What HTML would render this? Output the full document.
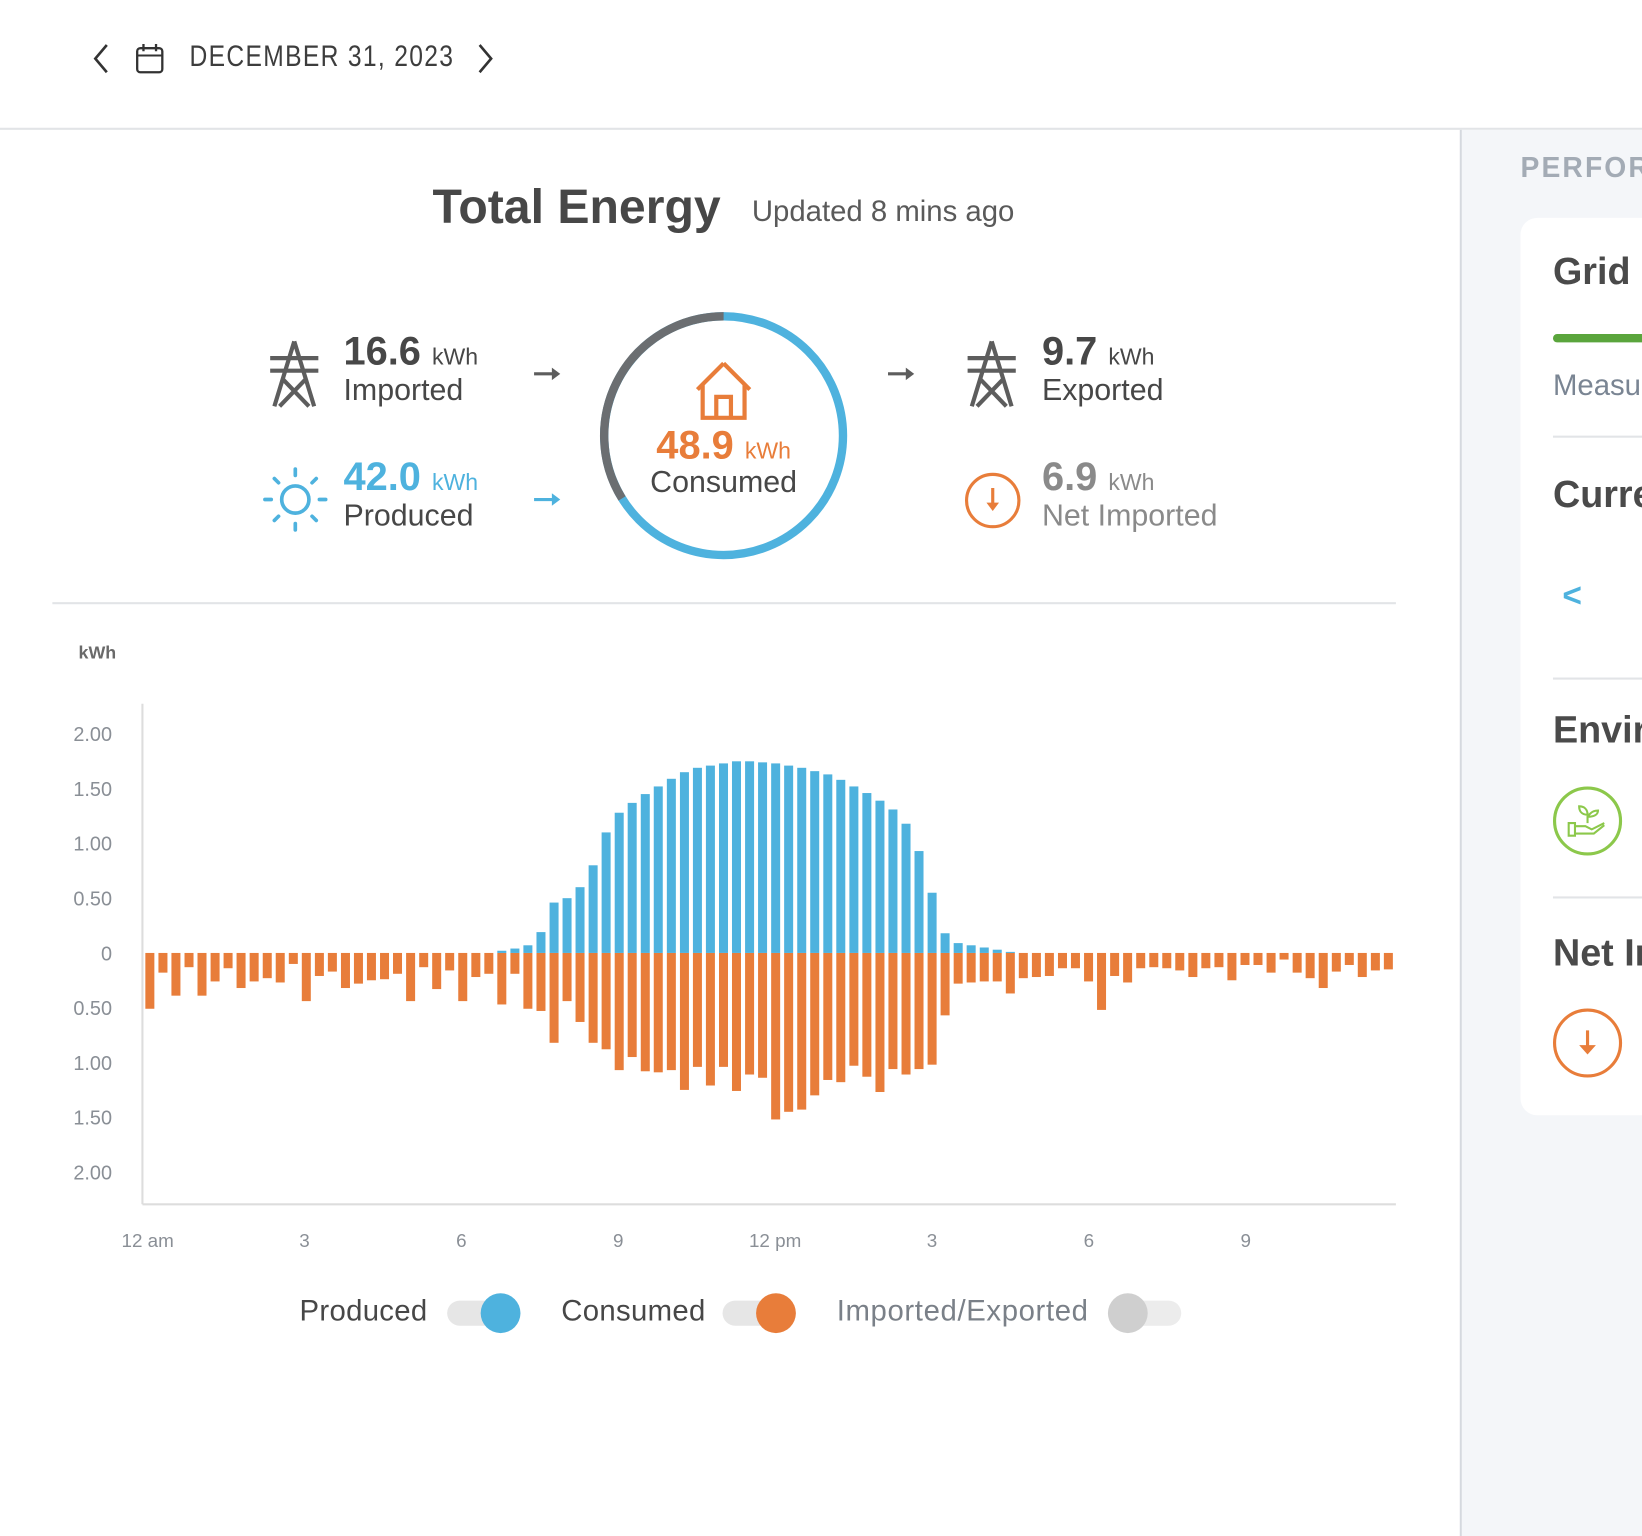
<!DOCTYPE html>
<html><head><meta charset="utf-8"><style>
html,body{margin:0;padding:0;background:#fff;overflow:hidden;width:1642px;height:1536px}
#clip{position:absolute;left:0;top:0;width:1642px;height:1536px;overflow:hidden}
#w{position:absolute;left:0;top:0;width:1568px;height:1467px;overflow:hidden;transform:scale(1.04719);transform-origin:0 0;font-family:"Liberation Sans",sans-serif;color:#4a4a4a}
.a{position:absolute;white-space:nowrap}
</style></head><body><div id="clip"><div id="w">
<div class="a" style="left:0;top:122px;width:1568px;height:2px;background:#e2e4e7"></div>
<svg class="a" style="left:84px;top:40px" width="24" height="32"><path d="M18 3 L7 16 L18 29" fill="none" stroke="#333" stroke-width="2.5"/></svg>
<svg class="a" style="left:128px;top:40px" width="30" height="32"><rect x="3" y="6" width="24" height="23" rx="3" fill="none" stroke="#333" stroke-width="2.2"/><line x1="3" y1="13" x2="27" y2="13" stroke="#333" stroke-width="2"/><line x1="9" y1="2" x2="9" y2="9" stroke="#333" stroke-width="2.2"/><line x1="21" y1="2" x2="21" y2="9" stroke="#333" stroke-width="2.2"/></svg>
<div class="a" style="left:181px;top:38px;font-size:28px;letter-spacing:1.5px;color:#3d3d3d;transform:scaleX(0.84);transform-origin:0 0">DECEMBER 31, 2023</div>
<svg class="a" style="left:452px;top:40px" width="24" height="32"><path d="M6 3 L17 16 L6 29" fill="none" stroke="#333" stroke-width="2.5"/></svg>

<div class="a" style="left:1394px;top:124px;width:2px;height:1343px;background:#d5d9df"></div>
<div class="a" style="left:1396px;top:124px;width:172px;height:1343px;background:#f4f6f9"></div>
<div class="a" style="left:1452px;top:145px;font-size:27px;font-weight:bold;letter-spacing:2px;color:#a3abb5">PERFORMANCE</div>
<div class="a" style="left:1452px;top:208px;width:140px;height:857px;background:#fff;border-radius:16px"></div>
<div class="a" style="left:1483px;top:238px;font-size:36px;font-weight:bold;color:#4a4a4a">Grid</div>
<div class="a" style="left:1483px;top:319px;width:100px;height:8px;border-radius:4px;background:#5aa53c"></div>
<div class="a" style="left:1483px;top:352px;font-size:28px;color:#7a8593">Measured</div>
<div class="a" style="left:1483px;top:416px;width:100px;height:2px;background:#e2e4e7"></div>
<div class="a" style="left:1483px;top:451px;font-size:36px;font-weight:bold">Current</div>
<div class="a" style="left:1492px;top:550px;font-size:32px;color:#4eb2de;font-weight:bold">&lt;</div>
<div class="a" style="left:1483px;top:647px;width:100px;height:2px;background:#e2e4e7"></div>
<div class="a" style="left:1483px;top:676px;font-size:36px;font-weight:bold">Environment</div>
<div class="a" style="left:1483px;top:751px;width:60px;height:60px;border:3px solid #8cc84b;border-radius:50%"></div>
<svg class="a" style="left:1494px;top:764px" width="44" height="40"><g fill="none" stroke="#8cc84b" stroke-width="2"><path d="M4 22 h6 v12 h-6z M10 25 h10 l6 3 l12 -6 M10 32 h18 l10 -8"/><path d="M22 22 v-10 M22 14 c-6 0 -8 -4 -8 -8 c5 0 8 3 8 8 M22 16 c4 -6 8 -6 10 -6 c0 4 -4 6 -10 6"/></g></svg>
<div class="a" style="left:1483px;top:856px;width:100px;height:2px;background:#e2e4e7"></div>
<div class="a" style="left:1483px;top:889px;font-size:36px;font-weight:bold">Net Imported</div>
<div class="a" style="left:1483px;top:963px;width:60px;height:60px;border:3px solid #e87d3a;border-radius:50%"></div>
<svg class="a" style="left:1500px;top:980px" width="32" height="32"><line x1="16" y1="4" x2="16" y2="24" stroke="#e87d3a" stroke-width="3"/><path d="M8 18 L16 27 L24 18Z" fill="#e87d3a"/></svg>

<div class="a" style="left:413px;top:170px;font-size:46px;font-weight:bold;color:#474747">Total Energy</div>
<div class="a" style="left:718px;top:186px;font-size:28px;color:#5a5a5a">Updated 8 mins ago</div>

<svg class="a" style="left:250px;top:320px" width="64" height="72"><g fill="none" stroke="#5d5d5d" stroke-width="4"><path d="M31 6 L12 68 M31 6 L50 68 M20 42 L45 68 M42 42 L17 68"/><line x1="8" y1="22" x2="54" y2="22"/><line x1="8" y1="34" x2="54" y2="34"/></g></svg>
<div class="a" style="left:328px;top:315px;font-size:38px;font-weight:bold;color:#474747">16.6 <span style="font-size:22px;font-weight:normal">kWh</span></div>
<div class="a" style="left:328px;top:357px;font-size:29px;color:#474747">Imported</div>
<svg class="a" style="left:508px;top:347px" width="30" height="20"><line x1="2" y1="10" x2="22" y2="10" stroke="#5d5d5d" stroke-width="3"/><path d="M19 4 L27 10 L19 16Z" fill="#5d5d5d"/></svg>

<svg class="a" style="left:250px;top:445px" width="64" height="64"><circle cx="32" cy="32" r="13" fill="none" stroke="#4eb2de" stroke-width="3.5"/><g stroke="#4eb2de" stroke-width="3.5" stroke-linecap="round"><line x1="32" y1="3" x2="32" y2="9"/><line x1="32" y1="55" x2="32" y2="61"/><line x1="3" y1="32" x2="9" y2="32"/><line x1="55" y1="32" x2="61" y2="32"/><line x1="12" y1="12" x2="16" y2="16"/><line x1="48" y1="48" x2="52" y2="52"/><line x1="52" y1="12" x2="48" y2="16"/><line x1="12" y1="52" x2="16" y2="48"/></g></svg>
<div class="a" style="left:328px;top:435px;font-size:38px;font-weight:bold;color:#4eb2de">42.0 <span style="font-size:22px;font-weight:normal">kWh</span></div>
<div class="a" style="left:328px;top:477px;font-size:29px;color:#474747">Produced</div>
<svg class="a" style="left:508px;top:467px" width="30" height="20"><line x1="2" y1="10" x2="22" y2="10" stroke="#4eb2de" stroke-width="3"/><path d="M19 4 L27 10 L19 16Z" fill="#4eb2de"/></svg>

<svg class="a" style="left:570px;top:295px" width="242" height="242"><circle cx="121" cy="121" r="114" fill="none" stroke="#4eb2de" stroke-width="8"/><path d="M121 7 A114 114 0 0 0 24 181" fill="none" stroke="#6b6e71" stroke-width="8"/><path d="M121 52 L96 77 M121 52 L146 77 M101 72 L101 104 L141 104 L141 72 M114 104 L114 84 L128 84 L128 104" fill="none" stroke="#e87d3a" stroke-width="4"/></svg>
<div class="a" style="left:591px;top:405px;width:200px;text-align:center;font-size:38px;font-weight:bold;color:#e87d3a">48.9 <span style="font-size:22px;font-weight:normal">kWh</span></div>
<div class="a" style="left:591px;top:445px;width:200px;text-align:center;font-size:29px;color:#474747">Consumed</div>

<svg class="a" style="left:846px;top:347px" width="30" height="20"><line x1="2" y1="10" x2="22" y2="10" stroke="#5d5d5d" stroke-width="3"/><path d="M19 4 L27 10 L19 16Z" fill="#5d5d5d"/></svg>
<svg class="a" style="left:916px;top:320px" width="64" height="72"><g fill="none" stroke="#5d5d5d" stroke-width="4"><path d="M31 6 L12 68 M31 6 L50 68 M20 42 L45 68 M42 42 L17 68"/><line x1="8" y1="22" x2="54" y2="22"/><line x1="8" y1="34" x2="54" y2="34"/></g></svg>
<div class="a" style="left:995px;top:315px;font-size:38px;font-weight:bold;color:#474747">9.7 <span style="font-size:22px;font-weight:normal">kWh</span></div>
<div class="a" style="left:995px;top:357px;font-size:29px;color:#474747">Exported</div>
<svg class="a" style="left:920px;top:450px" width="56" height="56"><circle cx="28" cy="28" r="25" fill="none" stroke="#e87d3a" stroke-width="3"/><line x1="28" y1="16" x2="28" y2="34" stroke="#e87d3a" stroke-width="3"/><path d="M22 30 L28 38 L34 30Z" fill="#e87d3a"/></svg>
<div class="a" style="left:995px;top:435px;font-size:38px;font-weight:bold;color:#8a8a8a">6.9 <span style="font-size:22px;font-weight:normal">kWh</span></div>
<div class="a" style="left:995px;top:477px;font-size:29px;color:#8a8a8a">Net Imported</div>

<div class="a" style="left:50px;top:575px;width:1283px;height:2px;background:#e2e4e7"></div>

<div class="a" style="left:75px;top:614px;font-size:17px;font-weight:bold;color:#6a6a6a">kWh</div>
<svg id="ch" class="a" style="left:0;top:0" width="1568" height="1250"></svg>

<div class="a" style="left:286px;top:1236px;font-size:28px;letter-spacing:0.3px;color:#474747">Produced</div>
<div class="a" style="left:427px;top:1242px;width:70px;height:24px;border-radius:12px;background:#e6e6e6"></div>
<div class="a" style="left:459px;top:1235px;width:38px;height:38px;border-radius:50%;background:#4eb2de"></div>
<div class="a" style="left:536px;top:1236px;font-size:28px;letter-spacing:0.3px;color:#474747">Consumed</div>
<div class="a" style="left:690px;top:1242px;width:70px;height:24px;border-radius:12px;background:#e6e6e6"></div>
<div class="a" style="left:722px;top:1235px;width:38px;height:38px;border-radius:50%;background:#e87d3a"></div>
<div class="a" style="left:799px;top:1236px;font-size:28px;letter-spacing:0.6px;color:#7a8088">Imported/Exported</div>
<div class="a" style="left:1058px;top:1242px;width:70px;height:24px;border-radius:12px;background:#ececec"></div>
<div class="a" style="left:1058px;top:1235px;width:38px;height:38px;border-radius:50%;background:#cfcfcf"></div>
</div></div>
<script>
var c=[0.51,0.18,0.39,0.13,0.39,0.26,0.14,0.32,0.26,0.23,0.27,0.10,0.44,0.21,0.17,0.32,0.28,0.25,0.24,0.19,0.44,0.13,0.33,0.16,0.44,0.22,0.19,0.47,0.19,0.51,0.53,0.82,0.44,0.63,0.82,0.88,1.07,0.95,1.08,1.09,1.07,1.25,1.04,1.21,1.04,1.26,1.11,1.14,1.52,1.45,1.43,1.30,1.16,1.18,1.03,1.13,1.27,1.06,1.11,1.06,1.02,0.57,0.28,0.27,0.26,0.26,0.37,0.23,0.22,0.21,0.14,0.14,0.26,0.52,0.21,0.27,0.14,0.13,0.14,0.16,0.22,0.14,0.13,0.25,0.11,0.11,0.18,0.06,0.18,0.23,0.32,0.17,0.11,0.22,0.16,0.15];
var p=[0.02,0.04,0.07,0.19,0.46,0.5,0.6,0.8,1.1,1.28,1.37,1.45,1.52,1.59,1.65,1.69,1.71,1.73,1.75,1.75,1.74,1.73,1.71,1.69,1.66,1.63,1.58,1.52,1.46,1.39,1.31,1.18,0.93,0.55,0.18,0.09,0.07,0.05,0.03,0.01];
var s='',Z=910,K=104.6,W=12.45,X0=137;
s+='<line x1="136" y1="672" x2="136" y2="1150" stroke="#ddd" stroke-width="2"/><line x1="136" y1="1150" x2="1333" y2="1150" stroke="#ddd" stroke-width="2"/>';
var yl=['2.00','1.50','1.00','0.50','0','0.50','1.00','1.50','2.00'];
for(var i=0;i<9;i++){var y=Z-K*2+i*K/2;s+='<text x="107" y="'+(y+7)+'" text-anchor="end" font-size="19" fill="#8a8f96" font-family="Liberation Sans">'+yl[i]+'</text>';}
var xl=['12 am','3','6','9','12 pm','3','6','9'];
for(var i=0;i<8;i++){s+='<text x="'+(141+i*149.8)+'" y="1191" text-anchor="middle" font-size="18" fill="#8a8f96" font-family="Liberation Sans">'+xl[i]+'</text>';}
for(var i=0;i<96;i++){var x=X0+i*W+1.8;s+='<rect x="'+x.toFixed(1)+'" y="'+Z+'" width="8.6" height="'+(c[i]*K).toFixed(1)+'" fill="#e87d3a"/>';}
for(var j=0;j<p.length;j++){var i=27+j,x=X0+i*W+1.8,h=p[j]*K;s+='<rect x="'+x.toFixed(1)+'" y="'+(Z-h).toFixed(1)+'" width="8.6" height="'+h.toFixed(1)+'" fill="#4eb2de"/>';}
document.getElementById('ch').innerHTML=s;
</script>
</body></html>
